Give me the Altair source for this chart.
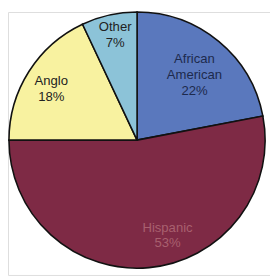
import altair as alt
import pandas as pd

categories = ["African American", "Hispanic", "Anglo", "Other"]
values = [22, 53, 18, 7]
label_lines = [["African", "American", "22%"], ["Hispanic", "53%"], ["Anglo", "18%"], ["Other", "7%"]]
colors = ["#5a78bd", "#7e2a45", "#f8f2a0", "#8cc3d8"]
text_colors = ["#1d2a4d", "#a8606f", "#222222", "#222222"]

df = pd.DataFrame({
    "category": categories,
    "value": values,
    "order": list(range(len(categories))),
    "label": label_lines,
})

cx, cy, R = 133, 132, 132

base = alt.Chart(df).encode(
    theta=alt.Theta("value:Q", stack=True),
    order=alt.Order("order:Q"),
)

pie = base.mark_arc(stroke="#111111", strokeWidth=1.6).encode(
    color=alt.Color("category:N", scale=alt.Scale(domain=categories, range=colors), legend=None),
    x=alt.value(cx), y=alt.value(cy), radius=alt.value(R),
)

offsets = {
    "African American": (-2, -9, 96),
    "Hispanic": (22, -9, 100),
    "Anglo": (-4, -7, 100),
    "Other": (1, -11, 108),
}

layers = [pie]
for cat, tc in zip(categories, text_colors):
    dx, dy, rr = offsets[cat]
    layers.append(
        base.mark_text(font="Liberation Sans", fontSize=13.5, lineHeight=16, dx=dx, dy=dy,
                       align="center", baseline="middle", color=tc)
        .encode(
            text=alt.condition(alt.datum.category == cat, alt.Text("label:N"), alt.value("")),
            x=alt.value(cx), y=alt.value(cy), radius=alt.value(rr),
        )
    )

chart = alt.layer(*layers).properties(
    width=270, height=271, autosize=alt.AutoSizeParams(type="none"), padding=0
).configure_view(stroke=None).configure(background="white")

chart.save("out.html", embed_options={"renderer": "svg", "actions": False})
